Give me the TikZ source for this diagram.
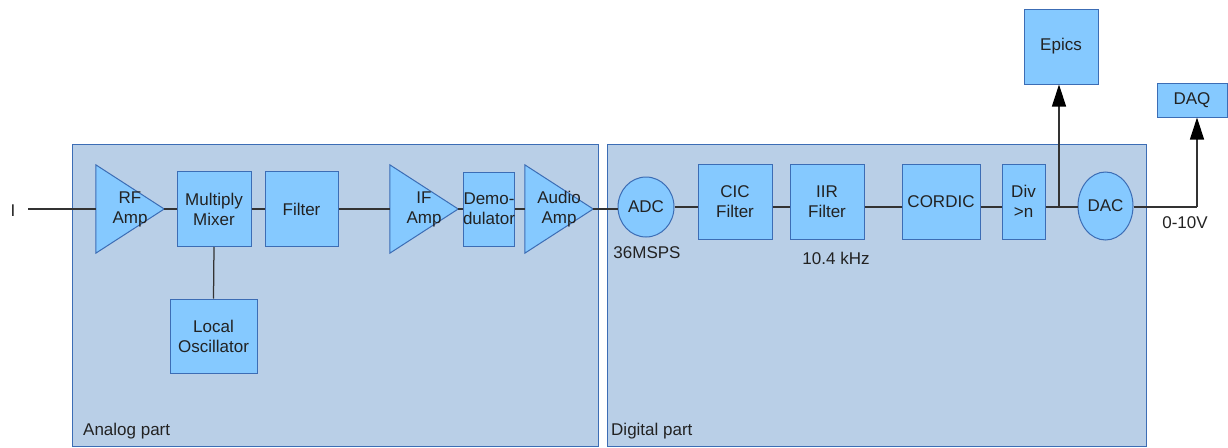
\documentclass[tikz,border=0pt]{standalone}
\usepackage{fontspec}
\setmainfont{Liberation Sans}
\usetikzlibrary{arrows.meta,shapes.geometric}
\pgfdeclarelayer{back}
\pgfdeclarelayer{background}
\pgfsetlayers{back,background,main}
\definecolor{panelfill}{HTML}{B9CFE7}
\definecolor{panelline}{HTML}{3C6DB5}
\definecolor{boxfill}{HTML}{85C9FF}
\definecolor{boxline}{HTML}{3C6DB5}
\definecolor{wirecol}{HTML}{333333}
\definecolor{txt}{HTML}{222222}
\newcommand\drawamp[1]{%
  \begin{pgfonlayer}{background}
    \draw[tri] (#1.north west) -- (#1.east) -- (#1.south west) -- cycle;
  \end{pgfonlayer}}
\begin{document}
\begin{tikzpicture}[x=1pt,y=-1pt,
  every node/.style={font=\fontsize{17}{20}\selectfont, text=txt},
  panel/.style={draw=panelline, fill=panelfill, line width=1pt, anchor=north west, inner sep=0pt},
  blk/.style={draw=boxline, fill=boxfill, line width=1pt, align=center, inner sep=0pt, minimum width=#1, minimum height=75pt},
  blk/.default=74pt,
  oval/.style={ellipse, draw=boxline, fill=boxfill, line width=1pt, inner sep=0pt},
  amp/.style={minimum width=68pt, minimum height=88pt, inner sep=0pt, align=center},
  tri/.style={draw=boxline, fill=boxfill, line width=1pt, line join=miter},
  wire/.style={draw=wirecol, line width=1.25pt},
  arr/.style={wire, -{Triangle[length=22pt,width=14pt,fill=black,color=black]}},
  lbl/.style={inner sep=0pt}
]
\useasboundingbox (0,0) rectangle (1228,447);

% panels
\begin{pgfonlayer}{back}
\node[panel, minimum width=526pt, minimum height=302pt] (analog) at (72,144) {};
\node[panel, minimum width=539pt, minimum height=302pt] (digital) at (607,144) {};
\end{pgfonlayer}
\node[lbl, anchor=west] (lanalog) at (83,431) {Analog part};
\node[lbl, anchor=west] (ldigital) at (611,431) {Digital part};

% analog chain
\node[lbl] (inlbl) at (13,211) {I};
\coordinate (in) at (28,209);
\node[amp] (rf) at (130,209) {RF\\Amp}; \drawamp{rf}
\node[blk] (mix) at (214,209) {Multiply\\Mixer};
\node[blk=73pt] (filt) at (301.5,209) {Filter};
\node[blk=87pt, minimum height=74pt] (lo) at (213.5,336) {Local\\Oscillator};
\node[amp] (ifa) at (424,209) {IF\\Amp}; \drawamp{ifa}
\node[blk=50pt, minimum height=74pt] (dem) at (489,209) {Demo-\\dulator};
\node[amp] (aud) at (559,209) {Audio\\Amp}; \drawamp{aud}

% digital chain
\coordinate (dl) at (0,207);
\node[oval, minimum width=56pt, minimum height=60pt] (adc) at (646,207) {ADC};
\node[lbl] (sps) at (647,253) {36MSPS};
\node[blk] (cic) at (735,201.5) {CIC\\Filter};
\node[blk] (iir) at (827,201.5) {IIR\\Filter};
\node[lbl] (khz) at (836,258) {10.4 kHz};
\node[blk=78pt] (cord) at (941,201.5) {CORDIC};
\node[blk=43pt] (div) at (1023.5,201.5) {Div\\>n};
\coordinate (j) at (1059,207);
\node[oval, minimum width=55pt, minimum height=68pt] (dac) at (1105.5,206) {DAC};
\coordinate (dq) at (1197,207);
\node[lbl] (volt) at (1185,223) {0-10V};
\node[blk=70pt, minimum height=34pt] (daq) at (1192,100) {DAQ};
\node[blk] (epics) at (1061,46.5) {Epics};

% connectors
\draw[wire] (in) -- (rf.west);
\draw[wire] (rf.east) -- (mix.west);
\draw[wire] (mix.east) -- (filt.west);
\draw[wire] (mix.south) -- (lo.north);
\draw[wire] (filt.east) -- (ifa.west);
\draw[wire] (ifa.east) -- (dem.west);
\draw[wire] (dem.east) -- (aud.west);
\draw[wire] (aud.east) -- (aud.east -| adc.west);
\draw[wire] (adc.east) -- (adc.east -| cic.west);
\draw[wire] (cic.east |- dl) -- (iir.west |- dl);
\draw[wire] (iir.east |- dl) -- (cord.west |- dl);
\draw[wire] (cord.east |- dl) -- (div.west |- dl);
\draw[wire] (div.east |- dl) -- (dac.west |- dl);
\draw[arr] (j) -- (j |- epics.south);
\draw[wire] (dac.east |- dl) -- (dq);
\draw[arr] (dq) -- (dq |- daq.south);
\end{tikzpicture}
\end{document}
